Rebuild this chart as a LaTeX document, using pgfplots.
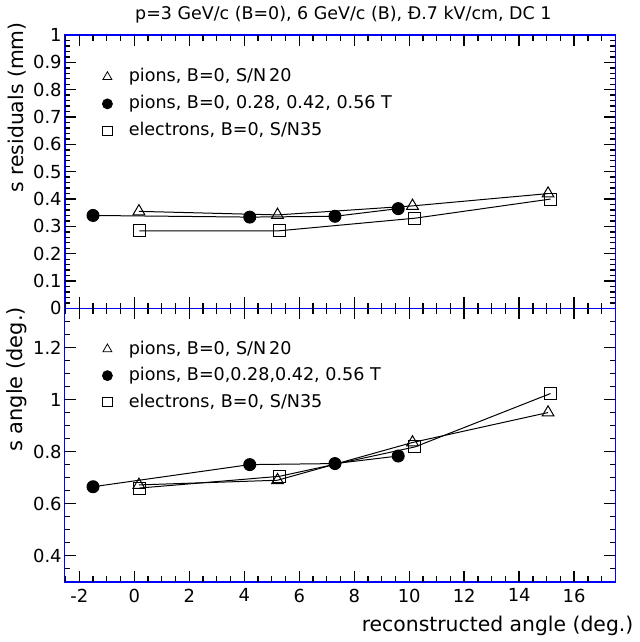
\documentclass[border=0pt]{standalone}
\usepackage{pgfplots}
\pgfplotsset{compat=1.18}
\usepackage{fontspec}
\setmainfont{DejaVu Sans}
\tikzset{tk/.style={black, line width=0.7pt, mark=none}}
\begin{document}
\begin{tikzpicture}
\pgfplotsset{
  base/.style={
    scale only axis, width=276pt, height=137pt,
    xmin=-2.53, xmax=17.5,
    axis line style={blue, line width=0.8pt},
    xtick={-2,0,2,4,6,8,10,12,14,16},
    major tick length=0pt, minor tick length=0pt,
    /pgf/number format/assume math mode=true,
    tick label style={font=\fontsize{9}{10}\selectfont},
    yticklabel style={xshift=2pt},
    every axis title shift=0pt,
    legend style={draw=none, fill=none, inner sep=0pt, font=\fontsize{8.8}{10}\selectfont,
      anchor=north west, row sep=1.5pt,
      cells={anchor=west, text height=6.5pt, text depth=2pt, inner sep=1pt}},
    legend image code/.code={\path (-4pt,0pt) (8.5pt,0pt); \draw[##1] plot coordinates {(0pt,0pt)};},
  },
  tri/.style={black, line width=0.5pt, mark=triangle, mark size=3.4pt, mark options={solid, fill=white}},
  circ/.style={black, line width=0.5pt, mark=*, mark size=3pt, mark options={solid, fill=black}},
  sq/.style={black, line width=0.5pt, mark=square, mark size=3pt, mark options={solid, fill=white}},
}
\begin{axis}[base, name=top,
  ymin=0, ymax=1,
  ytick={0,0.1,0.2,0.3,0.4,0.5,0.6,0.7,0.8,0.9,1},
  xticklabels={},
  ylabel={s residuals (mm)},
  ylabel style={font=\fontsize{10.2}{12}\selectfont, at={(axis description cs:-0.087,0.735)}, anchor=center},
  title={p=3 GeV/c (B=0), 6 GeV/c (B), Ð.7 kV/cm, DC 1},
  title style={font=\fontsize{8.75}{11}\selectfont, at={(axis description cs:0.506,1.073)}, anchor=center},
  legend style={at={(axis description cs:0.0616,0.892)}},
]
\pgfplotsinvokeforeach{-2.5,-1.5,-1,-0.5,0.5,1,1.5,2.5,3,3.5,4.5,5,5.5,6.5,7,7.5,8.5,9,9.5,10.5,11,11.5,12.5,13,13.5,14.5,15,15.5,16.5,17}{
  \addplot[tk, forget plot] coordinates {(#1,0) (#1,0.02)};
  \addplot[tk, forget plot] coordinates {(#1,1) (#1,0.98)};}
\pgfplotsinvokeforeach{-2,0,2,4,6,8,10,12,14,16}{
  \addplot[tk, forget plot] coordinates {(#1,0) (#1,0.04)};
  \addplot[tk, forget plot] coordinates {(#1,1) (#1,0.96)};}
\pgfplotsinvokeforeach{0.02,0.04,0.06,0.08,0.12,0.14,0.16,0.18,0.22,0.24,0.26,0.28,0.32,0.34,0.36,0.38,0.42,0.44,0.46,0.48,0.52,0.54,0.56,0.58,0.62,0.64,0.66,0.68,0.72,0.74,0.76,0.78,0.82,0.84,0.86,0.88,0.92,0.94,0.96,0.98}{
  \addplot[tk, forget plot] coordinates {(-2.53,#1) (-2.33,#1)};
  \addplot[tk, forget plot] coordinates {(17.5,#1) (17.3,#1)};}
\pgfplotsinvokeforeach{0.1,0.2,0.3,0.4,0.5,0.6,0.7,0.8,0.9}{
  \addplot[tk, forget plot] coordinates {(-2.53,#1) (-2.13,#1)};
  \addplot[tk, forget plot] coordinates {(17.5,#1) (17.1,#1)};}
\addlegendimage{black, only marks, mark=triangle, mark size=2.6pt}
\addlegendentry{pions, B=0, S/N\,20}
\addlegendimage{black, only marks, mark=*, mark size=2.5pt}
\addlegendentry{pions, B=0, 0.28, 0.42, 0.56 T}
\addlegendimage{black, only marks, mark=square, mark size=2.3pt}
\addlegendentry{electrons, B=0, S/N35}
\addplot[tri, forget plot] coordinates {(0.17,0.355) (5.21,0.342) (10.12,0.375) (15.05,0.42)};
\addplot[circ, forget plot] coordinates {(-1.5,0.34) (4.2,0.334) (7.3,0.337) (9.6,0.365)};
\addplot[sq, forget plot] coordinates {(0.19,0.284) (5.28,0.284) (10.21,0.33) (15.14,0.40)};
\end{axis}
\begin{axis}[base, at={(top.south west)}, anchor=north west,
  ymin=0.3, ymax=1.35,
  ytick={0.4,0.6,0.8,1,1.2},
  ylabel={s angle (deg.)},
  ylabel style={font=\fontsize{10.5}{12}\selectfont, at={(axis description cs:-0.087,0.74)}, anchor=center},
  xlabel={reconstructed angle (deg.)},
  xlabel style={font=\fontsize{10.2}{12}\selectfont, at={(axis description cs:0.786,-0.16)}, anchor=center},
  legend style={at={(axis description cs:0.0616,0.896)}, row sep=1.25pt},
]
\pgfplotsinvokeforeach{-2.5,-1.5,-1,-0.5,0.5,1,1.5,2.5,3,3.5,4.5,5,5.5,6.5,7,7.5,8.5,9,9.5,10.5,11,11.5,12.5,13,13.5,14.5,15,15.5,16.5,17}{
  \addplot[tk, forget plot] coordinates {(#1,0.3) (#1,0.321)};
  \addplot[tk, forget plot] coordinates {(#1,1.35) (#1,1.329)};}
\pgfplotsinvokeforeach{-2,0,2,4,6,8,10,12,14,16}{
  \addplot[tk, forget plot] coordinates {(#1,0.3) (#1,0.342)};
  \addplot[tk, forget plot] coordinates {(#1,1.35) (#1,1.308)};}
\pgfplotsinvokeforeach{0.35,0.45,0.5,0.55,0.65,0.7,0.75,0.85,0.9,0.95,1.05,1.1,1.15,1.25,1.3}{
  \addplot[tk, forget plot] coordinates {(-2.53,#1) (-2.33,#1)};
  \addplot[tk, forget plot] coordinates {(17.5,#1) (17.3,#1)};}
\pgfplotsinvokeforeach{0.4,0.6,0.8,1,1.2}{
  \addplot[tk, forget plot] coordinates {(-2.53,#1) (-2.13,#1)};
  \addplot[tk, forget plot] coordinates {(17.5,#1) (17.1,#1)};}
\addlegendimage{black, only marks, mark=triangle, mark size=2.6pt}
\addlegendentry{pions, B=0, S/N\,20}
\addlegendimage{black, only marks, mark=*, mark size=2.5pt}
\addlegendentry{pions, B=0,0.28,0.42, 0.56 T}
\addlegendimage{black, only marks, mark=square, mark size=2.3pt}
\addlegendentry{electrons, B=0, S/N35}
\addplot[tri, forget plot] coordinates {(0.17,0.672) (5.21,0.69) (10.12,0.835) (15.05,0.95)};
\addplot[circ, forget plot] coordinates {(-1.5,0.665) (4.2,0.75) (7.3,0.754) (9.6,0.783)};
\addplot[sq, forget plot] coordinates {(0.19,0.66) (5.28,0.705) (10.21,0.818) (15.14,1.023)};
\end{axis}
\end{tikzpicture}
\end{document}
